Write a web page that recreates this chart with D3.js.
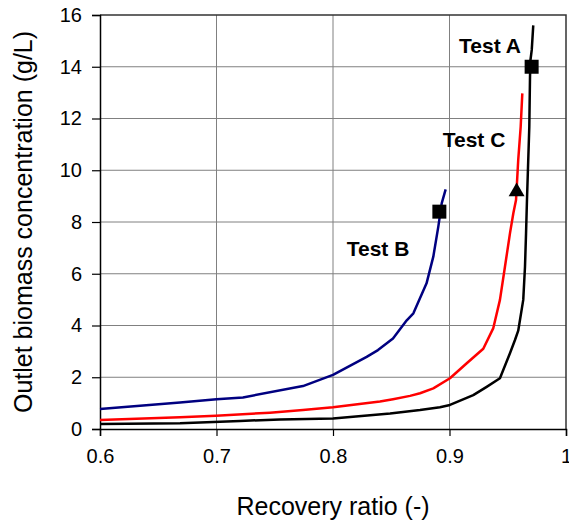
<!DOCTYPE html>
<html>
<head>
<meta charset="utf-8">
<script src="https://cdn.jsdelivr.net/npm/d3@7"></script>
<style>
  body { margin: 0; background: #fff; }
  text { font-family: Arial, "Liberation Sans", sans-serif; }
</style>
</head>
<body>
<svg id="chart" width="569" height="522"></svg>
<script>
// Test A (black)
var ratioA = [0.6, 0.6687, 0.7202, 0.7545, 0.8, 0.849, 0.8747, 0.8918, 0.9004, 0.9204, 0.9319, 0.9433, 0.9519, 0.9562, 0.959, 0.9633, 0.9648, 0.9657, 0.9665, 0.9685, 0.9691, 0.9695, 0.9706, 0.9719],
  concA = [0.19, 0.22, 0.31, 0.37, 0.41, 0.6, 0.73, 0.84, 0.93, 1.31, 1.63, 1.96, 2.93, 3.44, 3.8, 4.99, 6.27, 7.56, 8.85, 11.68, 13.6, 14.26, 14.65, 15.6];
// Test B (blue)
var ratioB = [0.6, 0.6687, 0.7, 0.7227, 0.7742, 0.8, 0.8289, 0.8386, 0.8515, 0.8633, 0.869, 0.8803, 0.8861, 0.8904, 0.8933, 0.8967],
  concB = [0.77, 1.02, 1.15, 1.22, 1.66, 2.09, 2.79, 3.05, 3.5, 4.2, 4.47, 5.63, 6.66, 7.82, 8.72, 9.26];
// Test C (red)
var ratioC = [0.6, 0.6687, 0.6996, 0.7459, 0.7742, 0.8, 0.8403, 0.8515, 0.8661, 0.8747, 0.8861, 0.9004, 0.9148, 0.929, 0.9376, 0.9433, 0.9476, 0.9519, 0.9548, 0.9571, 0.959, 0.9611, 0.9625],
  concC = [0.35, 0.45, 0.51, 0.63, 0.73, 0.84, 1.06, 1.15, 1.28, 1.38, 1.57, 1.96, 2.54, 3.1, 3.9, 4.99, 6.27, 7.56, 8.34, 8.85, 10.4, 11.68, 12.97];

var seriesNames = ['Test A', 'Test B', 'Test C'];
var seriesColors = ['#000000', '#000080', '#ff0000'];
var squareMarks = [[0.9705, 14.0], [0.8913, 8.4]];
var triangleMarks = [[0.9576, 9.17]];
var labelPos = [[0.9082, 14.53], [0.8118, 6.69], [0.8942, 10.89]];

var xTicks = [0.6, 0.7, 0.8, 0.9, 1],
  yTicks = [0, 2, 4, 6, 8, 10, 12, 14, 16];

var svg = d3.select('#chart'),
  margin = { top: 15, right: 3, bottom: 93, left: 100 },
  width = 569 - margin.left - margin.right,
  height = 522 - margin.top - margin.bottom;

var g = svg.append('g')
  .attr('transform', 'translate(' + margin.left + ',' + margin.top + ')');

var x = d3.scaleLinear().domain([0.6, 1]).range([0, width]);
var y = d3.scaleLinear().domain([0, 16]).range([height, 0]);

// grid
g.append('g').selectAll('line')
  .data(xTicks.slice(1, -1)).enter()
  .append('line')
  .attr('x1', function(d) { return x(d); })
  .attr('x2', function(d) { return x(d); })
  .attr('y1', 0).attr('y2', height)
  .attr('stroke', '#808080').attr('stroke-width', 1);
g.append('g').selectAll('line')
  .data(yTicks.slice(1, -1)).enter()
  .append('line')
  .attr('x1', 0).attr('x2', width)
  .attr('y1', function(d) { return y(d); })
  .attr('y2', function(d) { return y(d); })
  .attr('stroke', '#808080').attr('stroke-width', 1);

// frame top/right
g.append('path')
  .attr('d', 'M0,0H' + width + 'V' + height)
  .attr('fill', 'none').attr('stroke', '#333').attr('stroke-width', 1.5);

// axes
var xAxis = g.append('g')
  .attr('transform', 'translate(0,' + height + ')')
  .call(d3.axisBottom(x).tickValues(xTicks).tickSize(7).tickPadding(13)
    .tickFormat(function(d) { return d === 1 ? '1' : d3.format('.1f')(d); }));
var yAxis = g.append('g')
  .call(d3.axisLeft(y).tickValues(yTicks).tickSize(8).tickPadding(10));

[xAxis, yAxis].forEach(function(a) {
  a.select('.domain').attr('stroke', '#000').attr('stroke-width', 1.5);
  a.selectAll('.tick line').attr('stroke', '#000').attr('stroke-width', 1.2);
  a.selectAll('.tick text').attr('font-size', 20).attr('fill', '#000')
    .attr('font-family', 'Arial, "Liberation Sans", sans-serif');
});

// curves
var line = d3.line()
  .x(function(d) { return x(d[0]); })
  .y(function(d) { return y(d[1]); });

var curves = [d3.zip(ratioA, concA), d3.zip(ratioB, concB), d3.zip(ratioC, concC)];
g.append('g').selectAll('path')
  .data(curves).enter()
  .append('path')
  .attr('d', line)
  .attr('fill', 'none')
  .attr('stroke', function(d, i) { return seriesColors[i]; })
  .attr('stroke-width', 2.5)
  .attr('stroke-linejoin', 'round');

// markers
g.append('g').selectAll('path')
  .data(squareMarks).enter()
  .append('path')
  .attr('transform', function(d) { return 'translate(' + x(d[0]) + ',' + y(d[1]) + ')'; })
  .attr('d', d3.symbol().type(d3.symbolSquare).size(196))
  .attr('fill', '#000');
g.append('g').selectAll('path')
  .data(triangleMarks).enter()
  .append('path')
  .attr('transform', function(d) { return 'translate(' + x(d[0]) + ',' + y(d[1]) + ')'; })
  .attr('d', d3.symbol().type(d3.symbolTriangle).size(110))
  .attr('fill', '#000');

// series labels
g.append('g').selectAll('text')
  .data(seriesNames).enter()
  .append('text')
  .attr('x', function(d, i) { return x(labelPos[i][0]); })
  .attr('y', function(d, i) { return y(labelPos[i][1]); })
  .attr('font-size', 21).attr('font-weight', 'bold')
  .text(function(d) { return d; });

// axis titles
svg.append('text')
  .attr('x', margin.left + width / 2)
  .attr('y', 515)
  .attr('text-anchor', 'middle')
  .attr('font-size', 25)
  .text('Recovery ratio (-)');
svg.append('text')
  .attr('transform', 'translate(32,' + (margin.top + height / 2) + ') rotate(-90)')
  .attr('text-anchor', 'middle')
  .attr('font-size', 25)
  .text('Outlet biomass concentration (g/L)');
</script>
</body>
</html>
